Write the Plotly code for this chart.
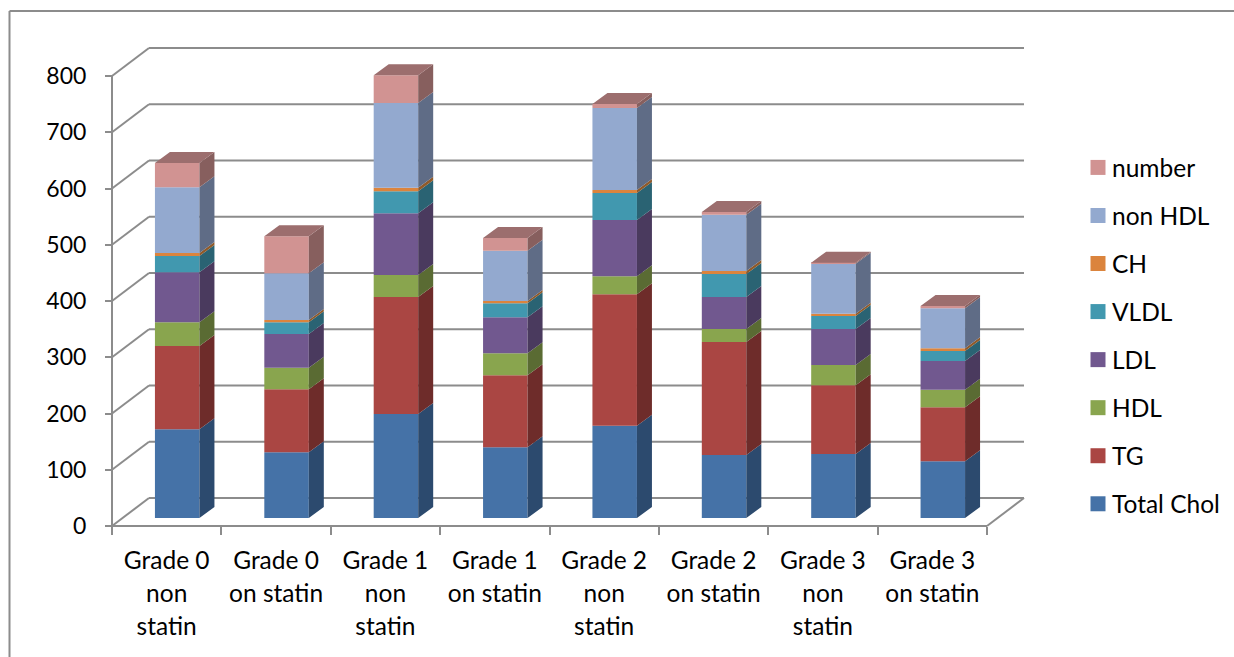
import plotly.graph_objects as go

categories = ["Grade 0<br>non<br>statin", "Grade 0<br>on statin", "Grade 1<br>non<br>statin", "Grade 1<br>on statin",
              "Grade 2<br>non<br>statin", "Grade 2<br>on statin", "Grade 3<br>non<br>statin", "Grade 3<br>on statin"]
total_chol = [158, 117, 185, 126, 164, 112, 114, 101]
tg = [148, 112, 208, 128, 234, 201, 122, 96]
hdl = [42, 38, 39, 39, 32, 23, 36, 31]
ldl = [89, 60, 110, 64, 100, 57, 64, 51]
vldl = [29, 21, 39, 25, 48, 41, 23, 18]
ch = [5, 4, 6, 4, 5, 5, 4, 5]
non_hdl = [117, 83, 151, 89, 146, 100, 89, 71]
number = [43, 66, 49, 23, 7, 5, 2, 4]

series_names = ["Total Chol", "TG", "HDL", "LDL", "VLDL", "CH", "non HDL", "number"]
series_values = [total_chol, tg, hdl, ldl, vldl, ch, non_hdl, number]
front_colors = ["#4572A7", "#AA4643", "#89A54E", "#71588F", "#4198AF", "#DB843D", "#93A9CF", "#D19392"]
side_colors = ["#2C4A6E", "#6E2C2A", "#5A6B33", "#4A3A5E", "#2A6373", "#8F5A2A", "#5F6C86", "#875F5E"]
top_color = "#9C6E6E"
y_ticks = list(range(0, 801, 100))

W, H = 1234, 657
PX_X, PX_Y = 875 / 8, 450 / 800
X0_PX, Y0_PX = 112, 526
GRID = "#8C8C8C"
FONT = "Lato"
TXT = 24.5

wall_dx, wall_dy = 37 / PX_X, 28 / PX_Y
shift_x, shift_y = 10.5 / PX_X, 8 / PX_Y
bar_w = 44.5 / PX_X
depth_x, depth_y = 15 / PX_X, 11 / PX_Y
n = len(categories)
centers = [i + 0.5 + shift_x for i in range(n)]

fig = go.Figure()
cum = [shift_y] * n
for name, vals, fc, sc in zip(series_names, series_values, front_colors, side_colors):
    fig.add_trace(go.Bar(x=centers, y=vals, base=cum, width=bar_w, marker=dict(color=fc, line=dict(width=0)),
                         showlegend=False, name=name))
    xs, ys = [], []
    for c, b, v in zip(centers, cum, vals):
        r = c + bar_w / 2
        xs += [r, r + depth_x, r + depth_x, r, r, None]
        ys += [b, b + depth_y, b + v + depth_y, b + v, b, None]
    fig.add_trace(go.Scatter(x=xs, y=ys, mode="lines", fill="toself", fillcolor=sc, line=dict(width=0),
                             showlegend=False, hoverinfo="skip"))
    cum = [b + v for b, v in zip(cum, vals)]

xs, ys = [], []
for c, t in zip(centers, cum):
    l, r = c - bar_w / 2, c + bar_w / 2
    xs += [l, r, r + depth_x, l + depth_x, l, None]
    ys += [t, t, t + depth_y, t + depth_y, t, None]
fig.add_trace(go.Scatter(x=xs, y=ys, mode="lines", fill="toself", fillcolor=top_color, line=dict(width=0),
                         showlegend=False, hoverinfo="skip"))

for name, fc in reversed(list(zip(series_names, front_colors))):
    fig.add_trace(go.Scatter(x=[None], y=[None], mode="markers", name=name, legendgroup=name,
                             marker=dict(symbol="square", size=15, color=fc, angle=90, standoff=6)))

line = dict(color=GRID, width=2)
shapes = []
for t in y_ticks:
    shapes.append(dict(type="line", layer="below", xref="x", yref="y", x0=0, y0=t, x1=wall_dx, y1=t + wall_dy, line=line))
    shapes.append(dict(type="line", layer="below", xref="x", yref="y", x0=wall_dx, y0=t + wall_dy, x1=n + wall_dx, y1=t + wall_dy, line=line))
shapes.append(dict(type="line", layer="below", xref="x", yref="y", x0=0, y0=0, x1=n, y1=0, line=line))
shapes.append(dict(type="line", layer="below", xref="x", yref="y", x0=n, y0=0, x1=n + wall_dx, y1=wall_dy, line=line))
shapes.append(dict(type="line", layer="below", xref="x", yref="y", x0=0, y0=0, x1=0, y1=y_ticks[-1], line=line))
# outer chart frame
shapes.append(dict(type="line", layer="below", xref="paper", yref="paper", x0=9.5 / W, y0=1 - 11 / H, x1=1, y1=1 - 11 / H, line=line))
shapes.append(dict(type="line", layer="below", xref="paper", yref="paper", x0=9.5 / W, y0=1 - 11 / H, x1=9.5 / W, y1=0, line=line))

fig.update_layout(
    width=W, height=H, autosize=False, margin=dict(l=0, r=0, t=0, b=0, pad=0),
    paper_bgcolor="white", plot_bgcolor="white", barmode="overlay", shapes=shapes,
    font=dict(family=FONT, color="#000000", size=TXT),
    xaxis=dict(range=[-X0_PX / PX_X, (W - X0_PX) / PX_X], domain=[0, 1], anchor="free", position=(H - Y0_PX) / H,
               showgrid=False, zeroline=False, showline=False, ticks="",
               tickmode="array", tickvals=[i + 0.5 for i in range(n)],
               ticktext=[f'<span style="font-size:{TXT}px">' + c.replace("<br>", f'</span><br><span style="font-size:{TXT}px">') + "</span>" for c in categories],
               tickfont=dict(family=FONT, size=25.4, color="#000000"), tickangle=0, ticklabelstandoff=17,
               minor=dict(ticks="outside", tickmode="array", tickvals=list(range(n + 1)), ticklen=8, tickwidth=2, tickcolor=GRID, showgrid=False)),
    yaxis=dict(range=[-(H - Y0_PX) / PX_Y, Y0_PX / PX_Y], domain=[0, 1], anchor="free", position=X0_PX / W,
               showgrid=False, zeroline=False, showline=False, ticks="outside", ticklen=7, tickwidth=2, tickcolor=GRID,
               tickmode="array", tickvals=y_ticks, ticktext=[str(t) for t in y_ticks], ticklabelstandoff=14,
               tickfont=dict(family=FONT, size=23, color="#000000")),
    legend=dict(x=1072 / W, y=1 - 145 / H, xanchor="left", yanchor="top", traceorder="grouped",
                tracegroupgap=13.2, font=dict(family=FONT, size=TXT, color="#000000"), bgcolor="rgba(0,0,0,0)",
                itemclick=False, itemdoubleclick=False, borderwidth=0),
)
fig.write_html("out.html", post_script="document.body.style.margin='0';document.body.style.overflow='hidden';",
               config={"displayModeBar": False})
